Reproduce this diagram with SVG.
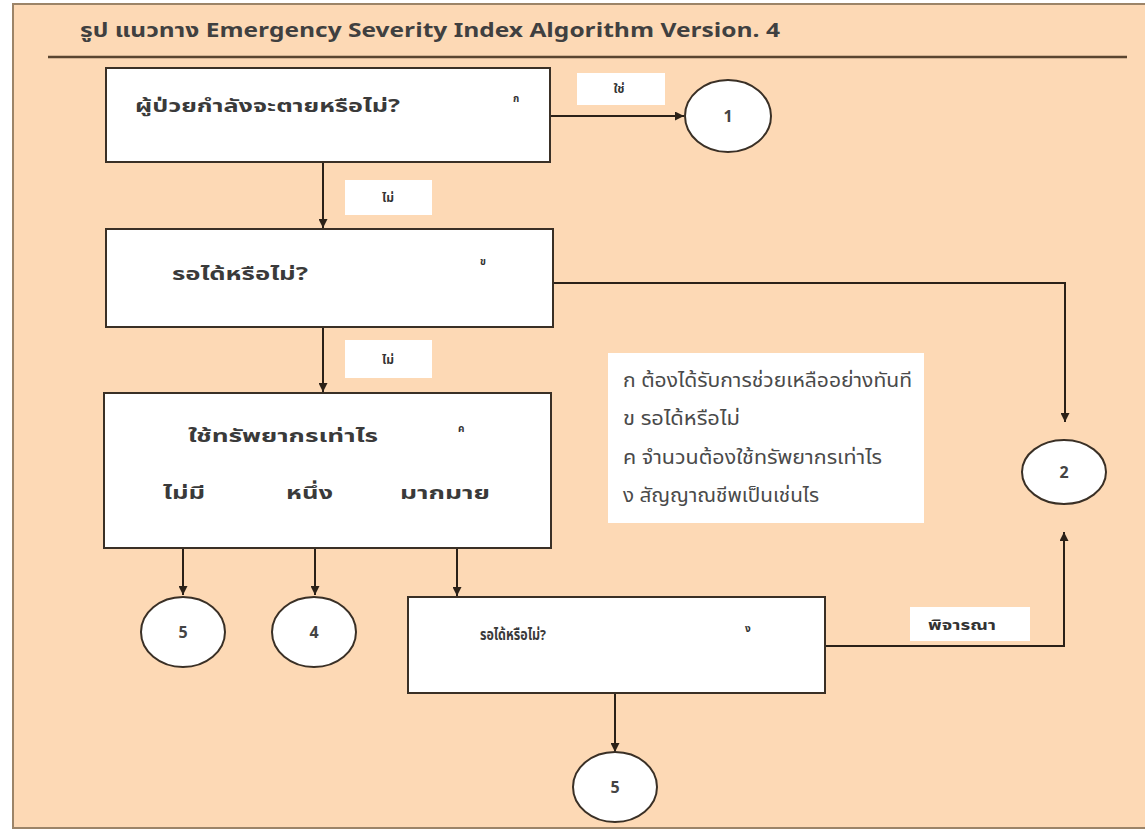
<svg xmlns="http://www.w3.org/2000/svg" width="1145" height="831" viewBox="0 0 1145 831">
  <defs>
    <marker id="arrow" viewBox="0 0 10 10" refX="10" refY="5" markerWidth="9" markerHeight="9" orient="auto" markerUnits="userSpaceOnUse">
      <path d="M0,0 L10,5 L0,10 z" fill="#2b2118"/>
    </marker>
    <style>
      .panel { fill: #fdd9b5; stroke: #9c8468; stroke-width: 2; }
      .box { fill: #ffffff; stroke: #3a3026; stroke-width: 2; }
      .tag { fill: #ffffff; }
      .term { fill: #ffffff; stroke: #3a3026; stroke-width: 2; }
      .edge { fill: none; stroke: #2b2118; stroke-width: 2; }
      text { font-family: "Noto Sans Thai", "Noto Sans", "DejaVu Sans", sans-serif; fill: #333333; }
      .title { font-size: 20px; font-weight: bold; fill: #404040; }
      .q { font-size: 18px; font-weight: bold; fill: #3a3a3a; }
      .small { font-size: 10px; font-weight: bold; }
      .lbl { font-size: 12px; font-weight: bold; text-anchor: middle; }
      .num { font-size: 16px; font-weight: bold; text-anchor: middle; fill: #444444; }
      .leg { font-size: 19px; fill: #4a4a4a; }
    </style>
  </defs>

  <!-- page background and frame -->
  <rect x="0" y="0" width="1145" height="831" fill="#ffffff"/>
  <rect class="panel" x="13" y="4" width="1140" height="824"/>
  <text class="title" x="80" y="37" textLength="700" lengthAdjust="spacingAndGlyphs">รูป แนวทาง Emergency Severity Index Algorithm Version. 4</text>
  <line x1="48" y1="57" x2="1127" y2="57" stroke="#5a4530" stroke-width="2.5"/>

  <!-- connectors -->
  <g id="connectors">
    <line class="edge" x1="550" y1="116" x2="684" y2="116" marker-end="url(#arrow)"/>
    <line class="edge" x1="323" y1="162" x2="323" y2="228" marker-end="url(#arrow)"/>
    <polyline class="edge" points="553,283 1065,283 1065,422" marker-end="url(#arrow)"/>
    <line class="edge" x1="323" y1="327" x2="323" y2="392" marker-end="url(#arrow)"/>
    <line class="edge" x1="183" y1="548" x2="183" y2="595" marker-end="url(#arrow)"/>
    <line class="edge" x1="315" y1="548" x2="315" y2="595" marker-end="url(#arrow)"/>
    <line class="edge" x1="457" y1="548" x2="457" y2="596" marker-end="url(#arrow)"/>
    <polyline class="edge" points="825,646 1064,646 1064,532" marker-end="url(#arrow)"/>
    <line class="edge" x1="615" y1="693" x2="615" y2="752" marker-end="url(#arrow)"/>

    <rect class="tag" x="577" y="73" width="88" height="32"/>
    <text class="lbl" x="619" y="93">ใช่</text>
    <rect class="tag" x="345" y="180" width="87" height="35"/>
    <text class="lbl" x="388" y="202">ไม่</text>
    <rect class="tag" x="345" y="340" width="87" height="38"/>
    <text class="lbl" x="388" y="364">ไม่</text>
    <rect class="tag" x="910" y="607" width="120" height="34"/>
    <text class="lbl" x="962" y="630" style="font-size:14px" textLength="68" lengthAdjust="spacingAndGlyphs">พิจารณา</text>
  </g>

  <!-- decision boxes -->
  <g id="q-dying">
    <rect class="box" x="106" y="68" width="444" height="94"/>
    <text class="q" x="135" y="112" textLength="265" lengthAdjust="spacingAndGlyphs">ผู้ป่วยกำลังจะตายหรือไม่?</text>
    <text class="small" x="513" y="102">ก</text>
  </g>
  <g id="q-wait">
    <rect class="box" x="106" y="229" width="447" height="98"/>
    <text class="q" x="172" y="280" textLength="136" lengthAdjust="spacingAndGlyphs">รอได้หรือไม่?</text>
    <text class="small" x="480" y="265">ข</text>
  </g>
  <g id="q-resources">
    <rect class="box" x="104" y="393" width="447" height="155"/>
    <text class="q" x="188" y="442" textLength="190" lengthAdjust="spacingAndGlyphs">ใช้ทรัพยากรเท่าไร</text>
    <text class="small" x="458" y="432">ค</text>
    <text class="q" x="163" y="499" textLength="42" lengthAdjust="spacingAndGlyphs">ไม่มี</text>
    <text class="q" x="286" y="499" textLength="47" lengthAdjust="spacingAndGlyphs">หนึ่ง</text>
    <text class="q" x="400" y="499" textLength="90" lengthAdjust="spacingAndGlyphs">มากมาย</text>
  </g>
  <g id="q-vitals">
    <rect class="box" x="408" y="597" width="417" height="96"/>
    <text class="q" x="480" y="640" style="font-size:15px" textLength="66" lengthAdjust="spacingAndGlyphs">รอได้หรือไม่?</text>
    <text class="small" x="745" y="632">ง</text>
  </g>

  <!-- level terminals -->
  <g id="level-1">
    <ellipse class="term" cx="728" cy="116" rx="43" ry="36"/>
    <text class="num" x="728" y="122">1</text>
  </g>
  <g id="level-2">
    <ellipse class="term" cx="1064" cy="472" rx="42" ry="32"/>
    <text class="num" x="1064" y="478">2</text>
  </g>
  <g id="level-5a">
    <ellipse class="term" cx="183" cy="632" rx="42" ry="35"/>
    <text class="num" x="183" y="638">5</text>
  </g>
  <g id="level-4">
    <ellipse class="term" cx="314" cy="632" rx="42" ry="35"/>
    <text class="num" x="314" y="638">4</text>
  </g>
  <g id="level-5b">
    <ellipse class="term" cx="615" cy="787" rx="42" ry="35"/>
    <text class="num" x="615" y="793">5</text>
  </g>

  <!-- legend -->
  <g id="legend">
    <rect class="tag" x="608" y="353" width="316" height="170"/>
    <text class="leg" x="623" y="387" textLength="289" lengthAdjust="spacingAndGlyphs">ก ต้องได้รับการช่วยเหลืออย่างทันที</text>
    <text class="leg" x="623" y="425" textLength="117" lengthAdjust="spacingAndGlyphs">ข รอได้หรือไม่</text>
    <text class="leg" x="623" y="464" textLength="259" lengthAdjust="spacingAndGlyphs">ค จำนวนต้องใช้ทรัพยากรเท่าไร</text>
    <text class="leg" x="623" y="502" textLength="196" lengthAdjust="spacingAndGlyphs">ง สัญญาณชีพเป็นเช่นไร</text>
  </g>
</svg>
